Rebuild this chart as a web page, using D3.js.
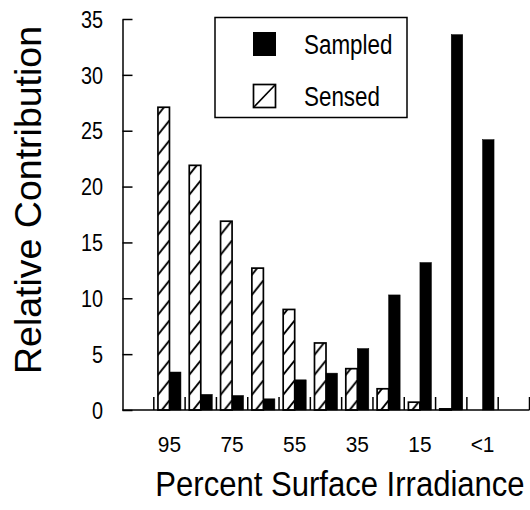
<!DOCTYPE html>
<html>
<head>
<meta charset="utf-8">
<script src="https://cdn.jsdelivr.net/npm/d3@7"></script>
<style>
  html, body { margin: 0; padding: 0; background: #fff; }
  svg { display: block; font-family: "Liberation Sans", Arial, sans-serif; }
</style>
</head>
<body>
<div id="chart"></div>
<script>
// data
const categories = ['95', '85', '75', '65', '55', '45', '35', '25', '15', '5', '<1'];
const tickLabels = ['95', '75', '55', '35', '15', '<1'];
const sensed = [27.1, 21.9, 16.9, 12.7, 9.0, 6.0, 3.7, 1.9, 0.7, 0.1, 0];
const sampled = [3.4, 1.4, 1.3, 1.0, 2.7, 3.3, 5.5, 10.3, 13.2, 33.6, 24.2];
const yTicks = [0, 5, 10, 15, 20, 25, 30, 35];
const seriesNames = ['Sensed', 'Sampled'];

const W = 530, H = 510;
const axisX0 = 122.5, axisX1 = 529.5, baseY = 410, topY = 19;
const step = (axisX1 - axisX0) / 13;

const svg = d3.select('#chart').append('svg')
    .attr('width', W).attr('height', H);

// hatch pattern for the "Sensed" bars
const defs = svg.append('defs');
defs.append('pattern')
    .attr('id', 'hatch')
    .attr('patternUnits', 'userSpaceOnUse')
    .attr('width', 16).attr('height', 20)
  .append('path')
    .attr('d', 'M-1,21.25 L17,-1.25')
    .attr('stroke', '#000').attr('stroke-width', 1.9)
    .attr('fill', 'none');

// scales
const x = d3.scaleBand()
    .domain(categories)
    .range([axisX0 + step, axisX1 - step])
    .paddingInner(0).paddingOuter(0);

const xSub = d3.scaleBand()
    .domain(seriesNames)
    .range([0, x.bandwidth()])
    .paddingInner(0).paddingOuter(0.36);

const y = d3.scaleLinear().domain([0, 35]).range([baseY, topY]);

// bars
const rows = categories.map((c, i) => ({ cat: c, Sensed: sensed[i], Sampled: sampled[i] }));

const groups = svg.append('g').selectAll('g')
    .data(rows).join('g')
    .attr('transform', d => `translate(${x(d.cat)},0)`);

groups.selectAll('rect')
    .data(d => seriesNames.map(k => ({ key: k, value: d[k] })).filter(d => d.value > 0))
    .join('rect')
    .attr('x', d => xSub(d.key))
    .attr('width', xSub.bandwidth())
    .attr('y', d => y(d.value))
    .attr('height', d => baseY - y(d.value))
    .attr('fill', d => d.key === 'Sensed' ? 'url(#hatch)' : '#000')
    .attr('stroke', '#000')
    .attr('stroke-width', d => d.key === 'Sensed' ? 1.7 : 0.5);

// y axis, ticks pointing inward
const yAxis = svg.append('g')
    .attr('transform', `translate(${axisX0},0)`)
    .call(d3.axisLeft(y).tickValues(yTicks).tickSizeInner(-10).tickSizeOuter(0).tickPadding(0));
yAxis.select('.domain').attr('stroke-width', 1.5);
yAxis.selectAll('.tick line').attr('stroke-width', 1.5);
yAxis.selectAll('.tick text')
    .attr('x', null).attr('dy', null)
    .attr('font-size', 24.5)
    .attr('fill', '#000')
    .attr('text-anchor', 'end')
    .attr('dominant-baseline', 'central')
    .attr('transform', 'translate(-19.5,0) scale(0.81,1)');

// x axis line with band-boundary ticks pointing up
const xAxis = svg.append('g');
xAxis.append('line')
    .attr('x1', axisX0).attr('x2', axisX1)
    .attr('y1', baseY).attr('y2', baseY)
    .attr('stroke', '#000').attr('stroke-width', 1.5);

const boundaries = categories.map(c => x(c)).concat([x(categories[categories.length - 1]) + step, axisX1]);
xAxis.selectAll('line.bt')
    .data(boundaries).join('line')
    .attr('class', 'bt')
    .attr('x1', d => d).attr('x2', d => d)
    .attr('y1', baseY).attr('y2', baseY - 13)
    .attr('stroke', '#000').attr('stroke-width', 1.5);

xAxis.selectAll('text.xl')
    .data(tickLabels).join('text')
    .attr('class', 'xl')
    .attr('transform', d => `translate(${x(d) + x.bandwidth() / 2},452) scale(0.95,1)`)
    .attr('text-anchor', 'middle')
    .attr('font-size', 22)
    .text(d => d);

// axis titles
svg.append('text')
    .attr('transform', 'translate(41,200) rotate(-90)')
    .attr('text-anchor', 'middle')
    .attr('font-size', 37.5)
    .text('Relative Contribution');

svg.append('text')
    .attr('transform', `translate(${(153 + 527) / 2},496) scale(0.9,1)`)
    .attr('text-anchor', 'middle')
    .attr('font-size', 34.5)
    .text('Percent Surface Irradiance');

// legend
const legend = svg.append('g');
legend.append('rect')
    .attr('x', 215).attr('y', 17.5)
    .attr('width', 192).attr('height', 100)
    .attr('fill', '#fff').attr('stroke', '#000').attr('stroke-width', 1.5);

const legendItems = [
    { name: 'Sampled', y: 44 },
    { name: 'Sensed', y: 96 }
];

legendItems.forEach(item => {
    if (item.name === 'Sampled') {
        legend.append('rect')
            .attr('x', 253).attr('y', item.y - 12)
            .attr('width', 23).attr('height', 24)
            .attr('fill', '#000');
    } else {
        legend.append('rect')
            .attr('x', 253.5).attr('y', item.y - 11.5)
            .attr('width', 22).attr('height', 23)
            .attr('fill', '#fff').attr('stroke', '#000').attr('stroke-width', 1.7);
        legend.append('line')
            .attr('x1', 253.5).attr('y1', item.y + 11.5)
            .attr('x2', 275.5).attr('y2', item.y - 11.5)
            .attr('stroke', '#000').attr('stroke-width', 1.7);
    }
    legend.append('text')
        .attr('transform', `translate(304,${item.y + 10}) scale(0.8,1)`)
        .attr('font-size', 28)
        .text(item.name);
});
</script>
</body>
</html>
